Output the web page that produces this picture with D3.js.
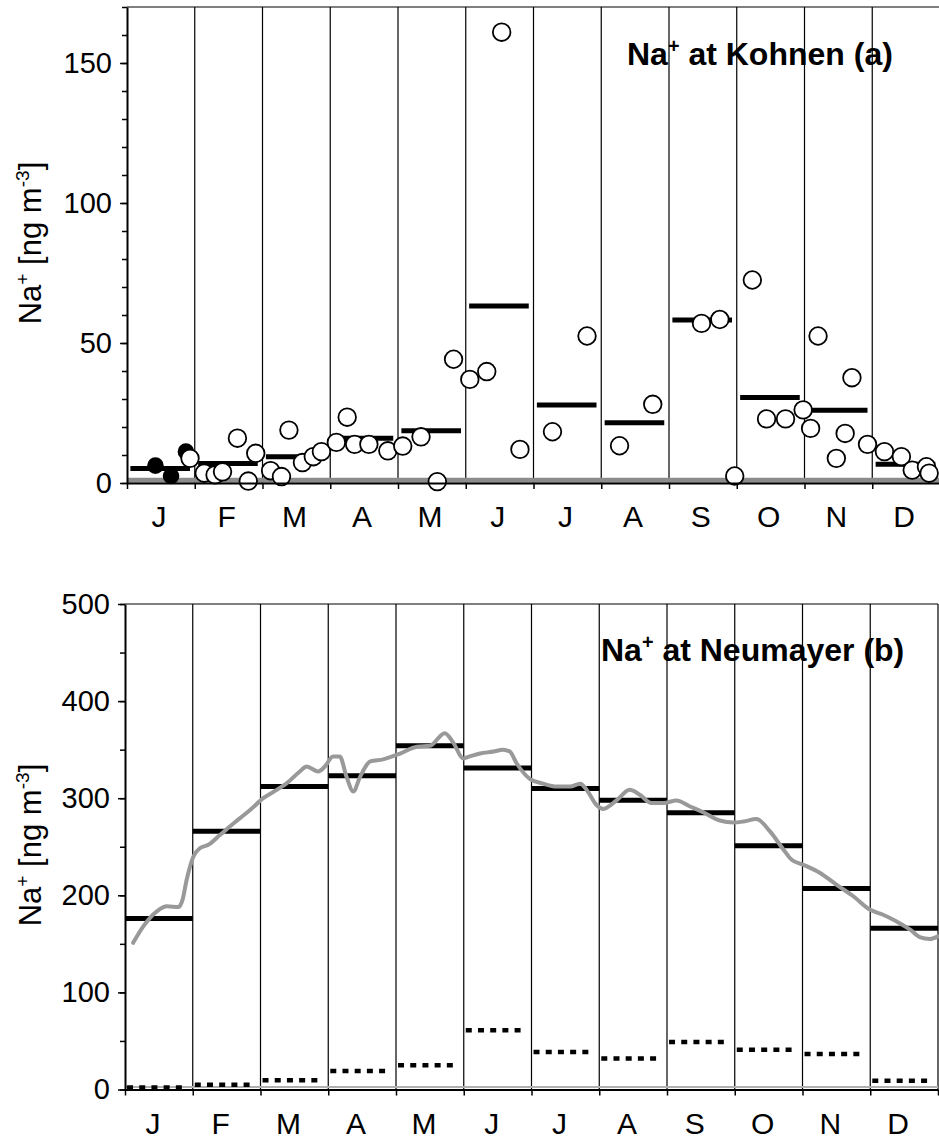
<!DOCTYPE html>
<html>
<head>
<meta charset="utf-8">
<script src="https://cdn.jsdelivr.net/npm/d3@7"></script>
<style>
  html, body { margin: 0; padding: 0; background: #fff; }
  svg { display: block; font-family: "Liberation Sans", Arial, sans-serif; }
</style>
</head>
<body>
<svg id="chart" width="939" height="1139"></svg>
<script>
// Month initials along both x axes
const monthLabels = ["J", "F", "M", "A", "M", "J", "J", "A", "S", "O", "N", "D"];

// ---- Kohnen (a) ----
// monthly means (ng m-3)
const kohnenMonthlyMean = [5.2, 7.0, 9.4, 16.0, 18.7, 63.2, 27.9, 21.5, 58.2, 30.5, 26.0, 6.7];
// individual samples: position in months since 1 Jan, and concentration
const kohnenFilledPos = [0.42, 0.65, 0.87];
const kohnenFilledVal = [6.2, 2.5, 11.2];
const kohnenOpenPos = [0.93, 1.14, 1.30, 1.41, 1.63, 1.79, 1.90, 2.12, 2.28, 2.39, 2.59, 2.75, 2.87,
  3.09, 3.25, 3.36, 3.57, 3.85, 4.07, 4.34, 4.58, 4.82, 5.06, 5.31, 5.53, 5.80, 6.28, 6.79, 7.27,
  7.76, 8.48, 8.75, 8.97, 9.23, 9.44, 9.72, 9.98, 10.09, 10.20, 10.47, 10.60, 10.70, 10.93,
  11.18, 11.43, 11.59, 11.80, 11.84];
const kohnenOpenVal = [8.8, 3.5, 2.9, 4.0, 16.0, 0.7, 10.6, 4.4, 2.3, 18.9, 7.3, 9.4, 11.2,
  14.5, 23.5, 13.8, 13.8, 11.5, 13.2, 16.5, 0.5, 44.2, 37.0, 39.8, 161, 12.0, 18.3, 52.5, 13.3,
  28.1, 57.0, 58.4, 2.5, 72.5, 22.9, 22.9, 26.1, 19.5, 52.5, 8.8, 17.7, 37.6, 13.8,
  11.2, 9.4, 4.6, 5.8, 3.5];
const kohnenDetectionLimit = 1.0;
const kohnenMajorTicks = [0, 50, 100, 150];
const kohnenMinorTicks = d3.range(0, 171, 10);

// ---- Neumayer (b) ----
const neumayerMonthlyMean = [176, 266, 312, 323, 354, 331, 310, 298, 285, 251, 207, 166];
const neumayerDottedMean = [2, 5, 9.5, 19, 25, 61, 38.5, 32, 49, 41, 36.5, 9];
const neumayerSmoothPos = [0.12, 0.27, 0.47, 0.62, 0.79, 0.85, 0.91, 1.01, 1.11, 1.23, 1.40, 1.60, 1.85,
  2.04, 2.24, 2.39, 2.58, 2.68, 2.85, 2.95, 3.07, 3.17, 3.27, 3.37, 3.47, 3.62, 3.81, 4.06, 4.31,
  4.50, 4.72, 4.85, 4.99, 5.09, 5.24, 5.44, 5.58, 5.68, 5.78, 5.98, 6.17, 6.37, 6.57, 6.72, 6.82,
  6.96, 7.06, 7.26, 7.45, 7.60, 7.77, 7.95, 8.14, 8.34, 8.54, 8.78, 8.98, 9.13, 9.32, 9.52, 9.72,
  9.84, 10.01, 10.26, 10.50, 10.75, 11.00, 11.19, 11.39, 11.59, 11.73, 11.88, 12.0];
const neumayerSmoothVal = [151, 168, 183.5, 188.6, 188, 195.5, 216, 240, 248.7, 252, 262, 274, 288,
  300, 308.6, 315.5, 327.5, 332.6, 327.5, 332.6, 343, 343, 322, 307, 322, 338, 340, 346, 353,
  354, 367, 356.7, 341, 343, 346, 348, 350, 348, 336, 319.6, 315, 312, 312, 315, 308,
  293, 289, 298, 308.6, 303.5, 295, 295, 297.7, 291.5, 285.3, 277, 275, 276, 278.5, 265.8, 247,
  236.6, 231.5, 223, 211, 199, 185, 180, 173, 164.6, 157, 155, 157.7];
const neumayerMajorTicks = [0, 100, 200, 300, 400, 500];
const neumayerMinorTicks = d3.range(0, 501, 50);

const svg = d3.select("#chart");
const TICK_FONT = 29;
const MONTH_FONT = 30;
const YTITLE_FONT = 31;
const TITLE_FONT = 32;

function buildPanel(opt) {
  const g = svg.append("g");
  const x = d3.scaleLinear().domain([0, 12]).range(opt.xRange);
  const y = d3.scaleLinear().domain(opt.yDomain).range(opt.yRange);
  const y0 = y(0), yTop = y(opt.yDomain[1]);

  // month separators and frame
  g.append("g").selectAll("line").data(d3.range(1, 13)).join("line")
    .attr("x1", d => x(d)).attr("x2", d => x(d))
    .attr("y1", yTop).attr("y2", y0)
    .attr("stroke", "#000").attr("stroke-width", 1.2);
  g.append("line").attr("x1", x(0)).attr("x2", x(12)).attr("y1", yTop).attr("y2", yTop)
    .attr("stroke", "#000").attr("stroke-width", 1.2);

  opt.draw(g, x, y);

  // y axis with minor ticks
  const minor = g.append("g").attr("transform", `translate(${x(0)},0)`)
    .call(d3.axisLeft(y).tickValues(opt.minorTicks).tickSize(5).tickFormat(""));
  minor.select(".domain").remove();
  minor.selectAll("line").attr("stroke-width", 1.5);
  const ya = g.append("g").attr("transform", `translate(${x(0)},0)`)
    .call(d3.axisLeft(y).tickValues(opt.majorTicks).tickSize(7).tickSizeOuter(0).tickPadding(8));
  ya.select(".domain").attr("stroke-width", 2);
  ya.selectAll("line").attr("stroke-width", 1.5);
  ya.selectAll("text").attr("font-size", TICK_FONT)
    .attr("font-family", "Liberation Sans, Arial, sans-serif").attr("fill", "#000");

  // x axis
  const xa = g.append("g").attr("transform", `translate(0,${y0})`)
    .call(d3.axisBottom(x).tickValues(d3.range(0, 13)).tickSize(6).tickSizeOuter(0).tickFormat(""));
  xa.select(".domain").attr("stroke-width", 2.2);
  xa.selectAll("line").attr("stroke-width", 1.5);

  g.append("g").selectAll("text").data(monthLabels).join("text")
    .attr("x", (d, i) => x(i + 0.5) + opt.labelShift)
    .attr("y", y0 + 44)
    .attr("text-anchor", "middle")
    .attr("font-size", MONTH_FONT)
    .text(d => d);

  // y title
  const yt = g.append("text")
    .attr("transform", `translate(41,${opt.yTitleY}) rotate(-90)`)
    .attr("text-anchor", "middle")
    .attr("font-size", YTITLE_FONT);
  yt.append("tspan").text("Na");
  yt.append("tspan").text("+").attr("font-size", "62%").attr("dy", "-0.62em");
  yt.append("tspan").text(" [ng m").attr("dy", "0.385em");
  yt.append("tspan").text("-3").attr("font-size", "62%").attr("dy", "-0.62em");
  yt.append("tspan").text("]").attr("dy", "0.385em");

  // panel title
  const tt = g.append("text")
    .attr("x", opt.titleX).attr("y", opt.titleY)
    .attr("font-size", TITLE_FONT).attr("font-weight", "bold");
  tt.append("tspan").text("Na");
  tt.append("tspan").text("+").attr("font-size", "62%").attr("dy", "-0.62em");
  tt.append("tspan").text(opt.titleRest).attr("dy", "0.385em");
}

// Panel (a): Kohnen
buildPanel({
  xRange: [127, 940],
  yDomain: [0, 170],
  yRange: [483, 7],
  majorTicks: kohnenMajorTicks,
  minorTicks: kohnenMinorTicks,
  labelShift: -2,
  yTitleY: 243,
  titleX: 627, titleY: 65,
  titleRest: " at Kohnen (a)",
  draw(g, x, y) {
    // detection limit band
    g.append("line").attr("x1", x(0)).attr("x2", x(12))
      .attr("y1", y(kohnenDetectionLimit)).attr("y2", y(kohnenDetectionLimit))
      .attr("stroke", "#8c8c8c").attr("stroke-width", 5);
    // monthly means
    g.append("g").selectAll("line").data(kohnenMonthlyMean).join("line")
      .attr("x1", (d, i) => x(i + 0.05)).attr("x2", (d, i) => x(i + 0.93))
      .attr("y1", d => y(d)).attr("y2", d => y(d))
      .attr("stroke", "#000").attr("stroke-width", 5);
    // filled samples
    g.append("g").selectAll("circle").data(kohnenFilledVal).join("circle")
      .attr("cx", (d, i) => x(kohnenFilledPos[i])).attr("cy", d => y(d))
      .attr("r", 8.3).attr("fill", "#000");
    // open samples
    g.append("g").selectAll("circle").data(kohnenOpenVal).join("circle")
      .attr("cx", (d, i) => x(kohnenOpenPos[i])).attr("cy", d => y(d))
      .attr("r", 8.8).attr("fill", "#fff").attr("stroke", "#000").attr("stroke-width", 1.8);
  }
});

// Panel (b): Neumayer
buildPanel({
  xRange: [125, 938],
  yDomain: [0, 500],
  yRange: [1089.5, 604],
  majorTicks: neumayerMajorTicks,
  minorTicks: neumayerMinorTicks,
  labelShift: -6,
  yTitleY: 845,
  titleX: 601, titleY: 661,
  titleRest: " at Neumayer (b)",
  draw(g, x, y) {
    g.append("line").attr("x1", x(0)).attr("x2", x(12))
      .attr("y1", y(2.5)).attr("y2", y(2.5))
      .attr("stroke", "#b0b0b0").attr("stroke-width", 2);
    // dotted monthly means
    g.append("g").selectAll("line").data(neumayerDottedMean).join("line")
      .attr("x1", (d, i) => x(i + 0.03)).attr("x2", (d, i) => x(i + 0.92))
      .attr("y1", d => y(d)).attr("y2", d => y(d))
      .attr("stroke", "#000").attr("stroke-width", 4.5)
      .attr("stroke-dasharray", "6,6.2");
    // solid monthly means
    g.append("g").selectAll("line").data(neumayerMonthlyMean).join("line")
      .attr("x1", (d, i) => x(i)).attr("x2", (d, i) => x(i + 1))
      .attr("y1", d => y(d)).attr("y2", d => y(d))
      .attr("stroke", "#000").attr("stroke-width", 5);
    // smoothed long-term record
    const line = d3.line()
      .x((d, i) => x(neumayerSmoothPos[i]))
      .y(d => y(d))
      .curve(d3.curveMonotoneX);
    g.append("path").datum(neumayerSmoothVal)
      .attr("d", line)
      .attr("fill", "none").attr("stroke", "#999999").attr("stroke-width", 4)
      .attr("stroke-linejoin", "round").attr("stroke-linecap", "round");
  }
});
</script>
</body>
</html>
